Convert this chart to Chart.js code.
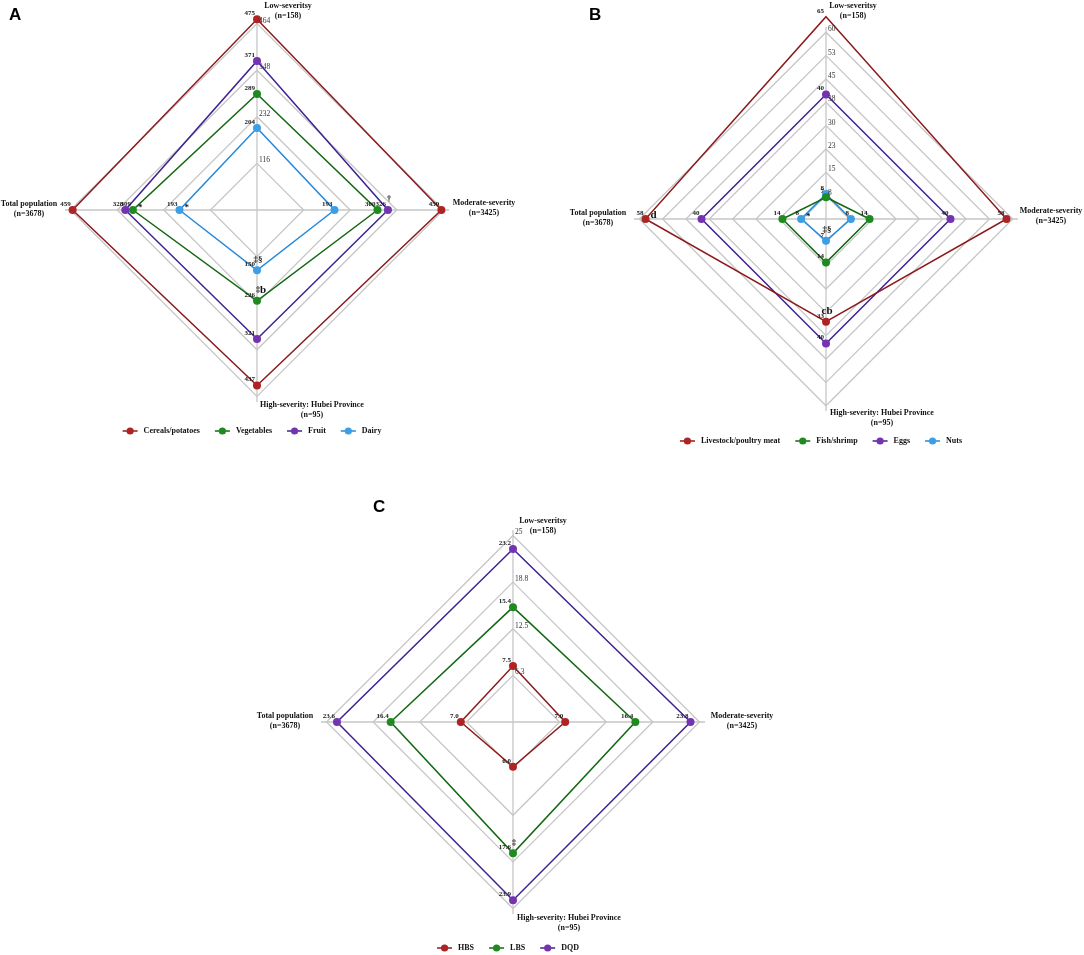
<!DOCTYPE html>
<html>
<head>
<meta charset="utf-8">
<script src="https://cdn.jsdelivr.net/npm/chart.js@4.4.1/dist/chart.umd.min.js"></script>
<style>
  body { margin: 0; background: #fff; }
  #wrap { position: relative; width: 1084px; height: 955px; overflow: hidden; background: #fff; }
  #wrap canvas { position: absolute; }
  .tag { position: absolute; font: bold 17px "Liberation Sans", Arial, sans-serif; color: #000; line-height: 20px; }
</style>
</head>
<body>
<div id="wrap">
  <canvas id="chartA"></canvas>
  <canvas id="chartB"></canvas>
  <canvas id="chartC"></canvas>
  <div class="tag" style="left:9px; top:5px;">A</div>
  <div class="tag" style="left:589px; top:5px;">B</div>
  <div class="tag" style="left:373px; top:497px;">C</div>
</div>
<script>
// axis order goes clockwise from the top
const axisLabels = [
  ["Low-severitsy", "(n=158)"],
  ["Moderate-severity", "(n=3425)"],
  ["High-severity: Hubei Province", "(n=95)"],
  ["Total population", "(n=3678)"]
];

// A - food groups
const namesA = ["Cereals/potatoes", "Vegetables", "Fruit", "Dairy"];
const cereals = [475, 459, 437, 459];
const vegetables = [289, 300, 226, 309];
const fruit = [371, 326, 321, 328];
const dairy = [204, 193, 150, 193];
const ticksA = [116, 232, 348, 464];
const tickTextA = ["116", "232", "348", "464"];
const marksA = [[1, 3, "*", "right"], [3, 3, "*", "right"], [2, 1, "\u2020", "above"],
                [3, 2, "\u2021\u00a7", "above"], [1, 2, "\u2021", "above"], [1, 2, "b", "aboveRight"]];

// B - protein foods
const namesB = ["Livestock/poultry meat", "Fish/shrimp", "Eggs", "Nuts"];
const meat = [65, 58, 33, 58];
const fish = [7, 14, 14, 14];
const eggs = [40, 40, 40, 40];
const nuts = [8, 8, 7, 8];
const ticksB = [7.5, 15, 22.5, 30, 37.5, 45, 52.5, 60];
const tickTextB = ["8", "15", "23", "30", "38", "45", "53", "60"];
const marksB = [[0, 3, "d", "right"], [0, 2, "cb", "above"], [3, 2, "\u2021\u00a7", "above"], [3, 3, "*", "right"]];

// C - diet quality scores
const namesC = ["HBS", "LBS", "DQD"];
const hbs = [7.5, 7.0, 6.0, 7.0];
const lbs = [15.4, 16.4, 17.6, 16.4];
const dqd = [23.2, 23.8, 23.9, 23.6];
const ticksC = [6.25, 12.5, 18.75, 25];
const tickTextC = ["6.3", "12.5", "18.8", "25"];
const marksC = [[1, 2, "\u2021", "above"]];

const palette = [
  { line: "#8c1a1a", dot: "#ae2323" },
  { line: "#136813", dot: "#1f8a1f" },
  { line: "#3f2192", dot: "#7433b1" },
  { line: "#2389dd", dot: "#3b9fe6" }
];

const serif = '"Liberation Serif", "Times New Roman", serif';

function drawOverlay(chart, cfg) {
  const ctx = chart.ctx;
  const s = chart.scales.r;
  const cx = s.xCenter, cy = s.yCenter;
  ctx.save();

  // grid values beside the vertical axis
  ctx.font = "7.5px " + serif;
  ctx.fillStyle = "#333";
  ctx.textAlign = "left";
  ctx.textBaseline = "middle";
  cfg.ticks.forEach((v, i) => {
    const d = s.getDistanceFromCenterForValue(v);
    ctx.fillText(cfg.tickText[i], cx + 2, cy - d - 3);
  });

  // value labels
  ctx.font = "bold 7px " + serif;
  ctx.fillStyle = "#1a1a1a";
  ctx.textAlign = "right";
  chart.data.datasets.forEach((ds, i) => {
    const meta = chart.getDatasetMeta(i);
    meta.data.forEach((pt, j) => {
      ctx.fillText(cfg.fmt(ds.data[j]), pt.x - 2, pt.y - 6);
    });
  });

  // significance marks
  cfg.marks.forEach(([di, pj, txt, where]) => {
    const pt = chart.getDatasetMeta(di).data[pj];
    const letters = /^[a-z]+$/.test(txt);
    ctx.font = (letters ? "bold 11px " : "bold 9px ") + serif;
    ctx.fillStyle = "#111";
    if (where === "right") {
      ctx.textAlign = "left";
      ctx.fillText(txt, pt.x + 5, pt.y - (letters ? 4 : 2));
    } else if (where === "aboveRight") {
      ctx.textAlign = "left";
      ctx.fillText(txt, pt.x + 3, pt.y - 11);
    } else {
      ctx.textAlign = "center";
      ctx.fillText(txt, pt.x + 1, pt.y - 11);
    }
  });

  // axis names
  ctx.font = "bold 8px " + serif;
  ctx.fillStyle = "#111";
  ctx.textAlign = "center";
  chart.data.labels.forEach((lines, i) => {
    const [dx, dy] = cfg.labelPos[i];
    lines.forEach((t, k) => ctx.fillText(t, cx + dx, cy + dy + k * 10));
  });

  // legend
  const ly = cy + cfg.legendDy;
  const lineW = 15, gapIn = 6, gapOut = 15;
  ctx.font = "bold 8px " + serif;
  const widths = cfg.names.map(n => ctx.measureText(n).width);
  const total = widths.reduce((a, w) => a + lineW + gapIn + w, 0) + gapOut * (cfg.names.length - 1);
  let x = cx - 5 - total / 2;
  ctx.textAlign = "left";
  cfg.names.forEach((n, i) => {
    ctx.strokeStyle = palette[i].line;
    ctx.lineWidth = 1.5;
    ctx.beginPath();
    ctx.moveTo(x, ly);
    ctx.lineTo(x + lineW, ly);
    ctx.stroke();
    ctx.fillStyle = palette[i].dot;
    ctx.beginPath();
    ctx.arc(x + lineW / 2, ly, 3.6, 0, Math.PI * 2);
    ctx.fill();
    ctx.fillStyle = "#111";
    ctx.fillText(n, x + lineW + gapIn, ly);
    x += lineW + gapIn + widths[i] + gapOut;
  });

  ctx.restore();
}

function makeRadar(id, panel, cfg) {
  const canvas = document.getElementById(id);
  canvas.width = panel.width;
  canvas.height = panel.height;
  canvas.style.left = panel.left + "px";
  canvas.style.top = panel.top + "px";

  const pad = {
    left: panel.cx - panel.R - panel.left,
    top: panel.cy - panel.R - panel.top,
    right: panel.left + panel.width - (panel.cx + panel.R),
    bottom: panel.top + panel.height - (panel.cy + panel.R)
  };

  return new Chart(canvas.getContext("2d"), {
    type: "radar",
    data: {
      labels: axisLabels,
      datasets: cfg.series.map((d, i) => ({
        label: cfg.names[i],
        data: d,
        fill: false,
        borderColor: palette[i].line,
        borderWidth: 1.5,
        pointRadius: 4,
        pointBorderWidth: 0,
        pointBackgroundColor: palette[i].dot,
        pointBorderColor: palette[i].dot,
        tension: 0
      }))
    },
    options: {
      responsive: false,
      animation: false,
      events: [],
      layout: { padding: pad },
      plugins: { legend: { display: false }, tooltip: { enabled: false } },
      scales: {
        r: {
          min: 0,
          max: panel.max,
          grid: { color: "#c6c6c6", lineWidth: 1.3 },
          angleLines: { color: "#c6c6c6", lineWidth: 1.3 },
          pointLabels: { display: false },
          ticks: { display: false },
          afterBuildTicks: (scale) => {
            scale.ticks = [0, ...cfg.ticks].map(v => ({ value: v }));
          }
        }
      }
    },
    plugins: [{ id: "overlay", afterDraw: (chart) => drawOverlay(chart, cfg) }]
  });
}

makeRadar("chartA",
  { left: 0, top: 0, width: 540, height: 470, cx: 257, cy: 210, R: 192, max: 478 },
  { series: [cereals, vegetables, fruit, dairy], names: namesA, ticks: ticksA, tickText: tickTextA,
    fmt: v => String(v), marks: marksA,
    labelPos: [[31, -204], [227, -7], [55, 195], [-228, -6]], legendDy: 221 });

makeRadar("chartB",
  { left: 540, top: 0, width: 544, height: 470, cx: 826, cy: 219, R: 192, max: 61.7 },
  { series: [meat, fish, eggs, nuts], names: namesB, ticks: ticksB, tickText: tickTextB,
    fmt: v => String(v), marks: marksB,
    labelPos: [[27, -213], [225, -8], [56, 194], [-228, -6]], legendDy: 222 });

makeRadar("chartC",
  { left: 240, top: 470, width: 600, height: 485, cx: 513, cy: 722, R: 192, max: 25.74 },
  { series: [hbs, lbs, dqd], names: namesC, ticks: ticksC, tickText: tickTextC,
    fmt: v => v.toFixed(1), marks: marksC,
    labelPos: [[30, -201], [229, -6], [56, 196], [-228, -6]], legendDy: 226 });
</script>
</body>
</html>
